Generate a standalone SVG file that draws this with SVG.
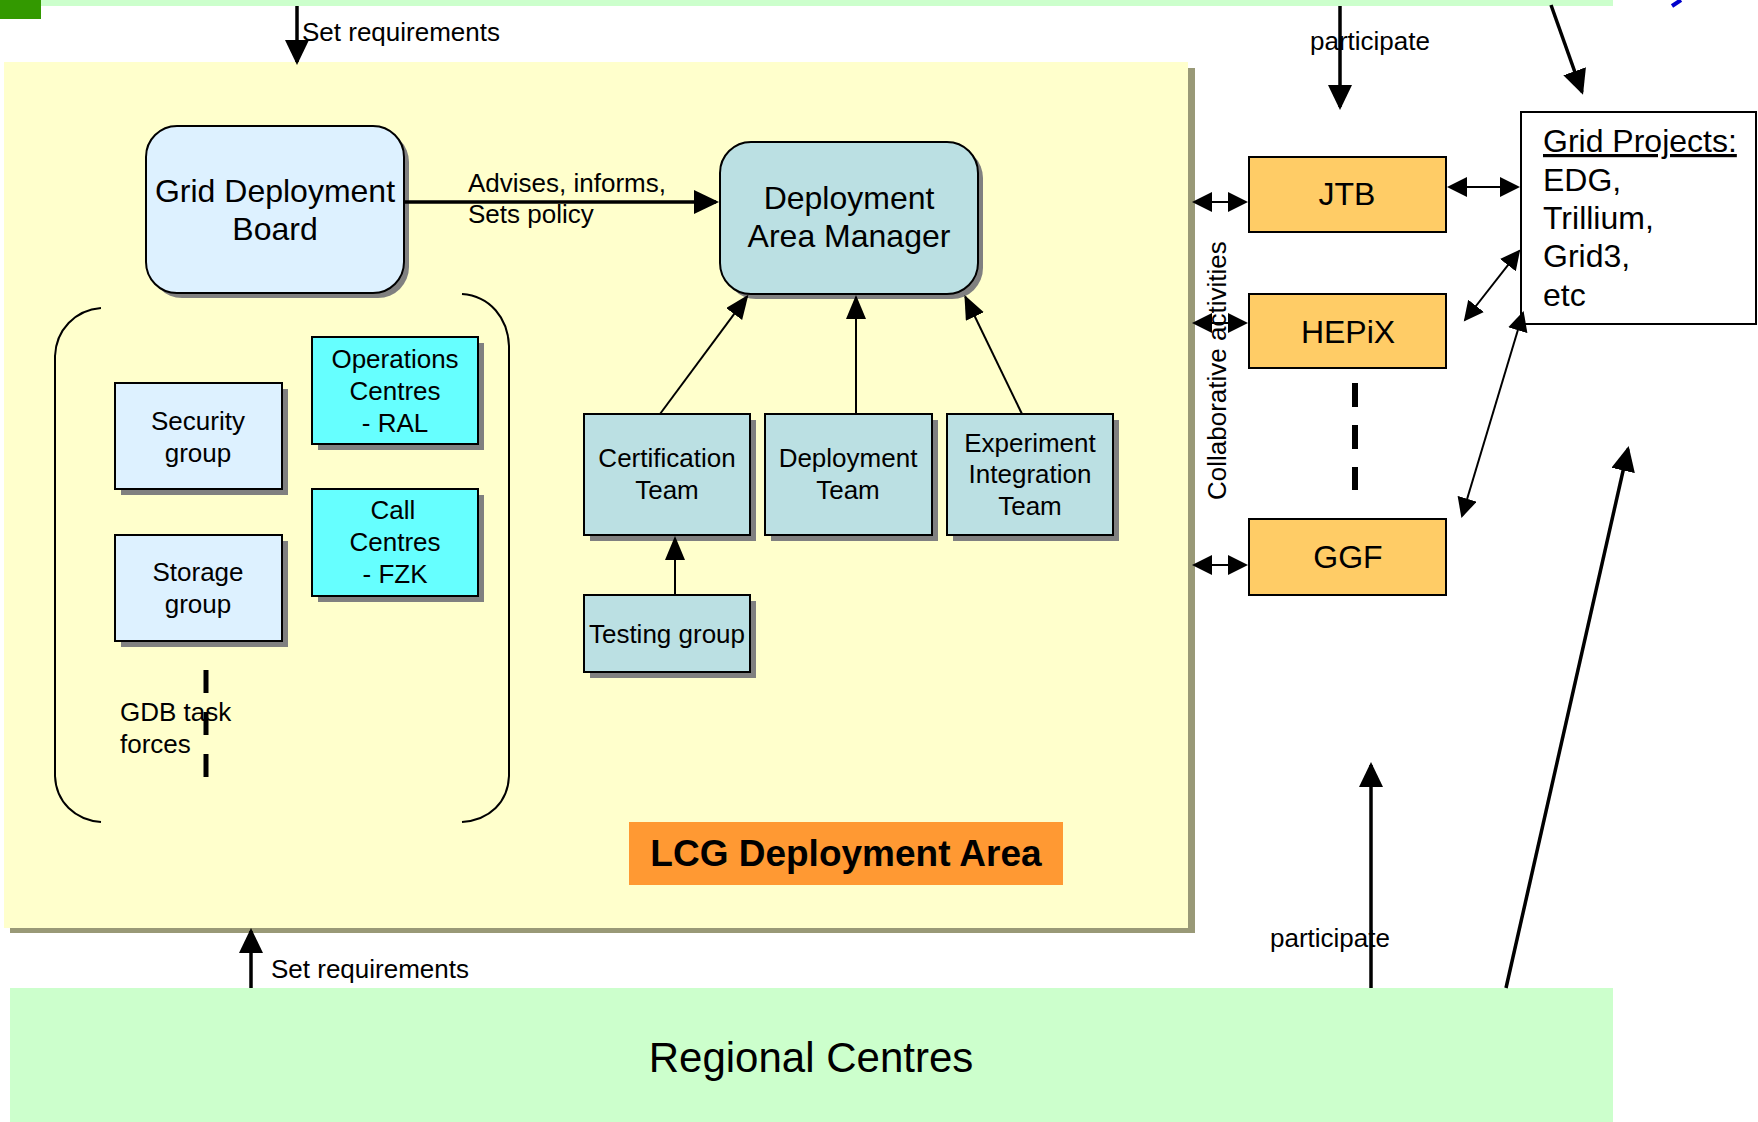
<svg xmlns="http://www.w3.org/2000/svg" width="1758" height="1122" viewBox="0 0 1758 1122">
<style>
text{font-family:"Liberation Sans",Arial,sans-serif;fill:#000}
.t26{font-size:26px}
.t32{font-size:32px}
.c{text-anchor:middle}
.box{stroke:#000;stroke-width:2}
.sh{fill:#808080}
.lb{fill:#DDF1FF}
.tl{fill:#BBE0E3}
.cy{fill:#66FFFF}
.or{fill:#FFCC66}
.ln{stroke:#000;fill:none}
.thin{stroke-width:2}
.thick{stroke-width:3.5}
</style>
<defs>
<marker id="ah" markerUnits="userSpaceOnUse" markerWidth="26" markerHeight="26" refX="22" refY="12" orient="auto"><path d="M0,0 L25,12 L0,24 z" fill="#000"/></marker>
<marker id="am" markerUnits="userSpaceOnUse" markerWidth="26" markerHeight="22" refX="22" refY="10" orient="auto-start-reverse"><path d="M0,0 L24,10 L0,20 z" fill="#000"/></marker>
<marker id="as" markerUnits="userSpaceOnUse" markerWidth="22" markerHeight="22" refX="18" refY="10" orient="auto-start-reverse"><path d="M0,0 L20,10 L0,20 z" fill="#000"/></marker>
</defs>
<rect width="1758" height="1122" fill="#fff"/>

<g id="top-bar">
<rect x="0" y="0" width="1613" height="6" fill="#CCFFCC"/>
<rect x="0" y="0" width="41" height="19" fill="#339900"/>
<path d="M1681,0 L1672,6" stroke="#0000CC" stroke-width="4"/>
</g>

<g id="lcg-area">
<rect x="10" y="68" width="1185" height="865" fill="#999977"/>
<rect x="4" y="62" width="1184" height="866" fill="#FFFFCC"/>
<rect x="629" y="822" width="434" height="63" fill="#FF9933"/>
<text x="846" y="866" class="c" font-size="37" font-weight="bold">LCG Deployment Area</text>
</g>

<g id="gdb-bracket">
<path class="ln thin" d="M101,308 C75,310 56,330 55,356 L55,776 C56,802 75,820 101,822"/>
<path class="ln thin" d="M462,294 C490,296 508,318 509,346 L509,776 C508,802 490,820 462,822"/>
</g>

<g id="regional-centres">
<rect x="10" y="988" width="1603" height="134" fill="#CCFFCC"/>
<text x="811" y="1072" class="c" font-size="42">Regional Centres</text>
</g>

<g id="gdb">
<rect x="151" y="131" width="258" height="167" rx="31" class="sh"/>
<rect x="146" y="126" width="258" height="167" rx="31" class="box lb"/>
<text x="275" y="202" class="t32 c">Grid Deployment</text>
<text x="275" y="240" class="t32 c">Board</text>
</g>

<g id="dam">
<rect x="725" y="147" width="258" height="152" rx="31" class="sh"/>
<rect x="720" y="142" width="258" height="152" rx="31" class="box tl"/>
<text x="849" y="209" class="t32 c">Deployment</text>
<text x="849" y="247" class="t32 c">Area Manager</text>
</g>

<g id="security">
<rect x="121" y="389" width="167" height="106" class="sh"/>
<rect x="115" y="383" width="167" height="106" class="box lb"/>
<text x="198" y="430" class="t26 c">Security</text>
<text x="198" y="462" class="t26 c">group</text>
</g>

<g id="storage">
<rect x="121" y="541" width="167" height="106" class="sh"/>
<rect x="115" y="535" width="167" height="106" class="box lb"/>
<text x="198" y="581" class="t26 c">Storage</text>
<text x="198" y="613" class="t26 c">group</text>
</g>

<g id="operations">
<rect x="318" y="343" width="166" height="107" class="sh"/>
<rect x="312" y="337" width="166" height="107" class="box cy"/>
<text x="395" y="368" class="t26 c">Operations</text>
<text x="395" y="400" class="t26 c">Centres</text>
<text x="395" y="432" class="t26 c">- RAL</text>
</g>

<g id="call">
<rect x="318" y="495" width="166" height="107" class="sh"/>
<rect x="312" y="489" width="166" height="107" class="box cy"/>
<text x="393" y="519" class="t26 c">Call</text>
<text x="395" y="551" class="t26 c">Centres</text>
<text x="395" y="583" class="t26 c">- FZK</text>
</g>

<g id="gdb-task-forces">
<text x="120" y="721" class="t26">GDB task</text>
<text x="120" y="753" class="t26">forces</text>
<path d="M206,670 L206,777" stroke="#000" stroke-width="5" stroke-dasharray="23,19"/>
</g>

<g id="certification">
<rect x="590" y="420" width="166" height="121" class="sh"/>
<rect x="584" y="414" width="166" height="121" class="box tl"/>
<text x="667" y="467" class="t26 c">Certification</text>
<text x="667" y="499" class="t26 c">Team</text>
</g>

<g id="deployment-team">
<rect x="771" y="420" width="167" height="121" class="sh"/>
<rect x="765" y="414" width="167" height="121" class="box tl"/>
<text x="848" y="467" class="t26 c">Deployment</text>
<text x="848" y="499" class="t26 c">Team</text>
</g>

<g id="experiment">
<rect x="953" y="420" width="166" height="121" class="sh"/>
<rect x="947" y="414" width="166" height="121" class="box tl"/>
<text x="1030" y="452" class="t26 c">Experiment</text>
<text x="1030" y="483" class="t26 c">Integration</text>
<text x="1030" y="515" class="t26 c">Team</text>
</g>

<g id="testing">
<rect x="590" y="601" width="166" height="77" class="sh"/>
<rect x="584" y="595" width="166" height="77" class="box tl"/>
<text x="667" y="643" class="t26 c">Testing group</text>
</g>

<g id="jtb">
<rect x="1249" y="157" width="197" height="75" class="box or"/>
<text x="1347" y="205" class="t32 c">JTB</text>
</g>

<g id="hepix">
<rect x="1249" y="294" width="197" height="74" class="box or"/>
<text x="1348" y="343" class="t32 c">HEPiX</text>
</g>

<g id="ggf">
<rect x="1249" y="519" width="197" height="76" class="box or"/>
<text x="1348" y="568" class="t32 c">GGF</text>
</g>

<g id="grid-projects">
<rect x="1521" y="112" width="235" height="212" fill="#fff" stroke="#000" stroke-width="2"/>
<text x="1543" y="152" class="t32" text-decoration="underline">Grid Projects:</text>
<text x="1543" y="191" class="t32">EDG,</text>
<text x="1543" y="229" class="t32">Trillium,</text>
<text x="1543" y="267" class="t32">Grid3,</text>
<text x="1543" y="306" class="t32">etc</text>
</g>

<g id="labels">
<text x="302" y="41" class="t26">Set requirements</text>
<text x="271" y="978" class="t26">Set requirements</text>
<text x="468" y="192" class="t26">Advises, informs,</text>
<text x="468" y="223" class="t26">Sets policy</text>
<text x="1310" y="50" class="t26">participate</text>
<text x="1270" y="947" class="t26">participate</text>
<text transform="translate(1226,500) rotate(-90)" class="t26">Collaborative activities</text>
</g>

<g id="connectors">
<path class="ln thick" d="M297,6 L297,62" marker-end="url(#ah)"/>
<path class="ln thick" d="M251,988 L251,931" marker-end="url(#ah)"/>
<path class="ln thick" d="M404,202 L716,202" marker-end="url(#ah)"/>
<path class="ln thin" d="M660,414 L747.2,296.4" marker-end="url(#am)"/>
<path class="ln thin" d="M856,414 L856,297" marker-end="url(#am)"/>
<path class="ln thin" d="M1022,414 L965.3,296.7" marker-end="url(#am)"/>
<path class="ln thin" d="M675,595 L675,538" marker-end="url(#am)"/>
<path class="ln thin" d="M1194,202 L1246,202" marker-start="url(#as)" marker-end="url(#as)"/>
<path class="ln thin" d="M1194,323 L1246,323" marker-start="url(#as)" marker-end="url(#as)"/>
<path class="ln thin" d="M1194,565 L1246,565" marker-start="url(#as)" marker-end="url(#as)"/>
<path class="ln thin" d="M1449,187 L1518,187" marker-start="url(#as)" marker-end="url(#as)"/>
<path class="ln thin" d="M1465,320 L1519,251" marker-start="url(#as)" marker-end="url(#as)"/>
<path class="ln thin" d="M1462,516 L1523,313" marker-start="url(#as)" marker-end="url(#as)"/>
<path d="M1355,383 L1355,490" stroke="#000" stroke-width="6" stroke-dasharray="24,18"/>
<path class="ln thick" d="M1340,6 L1340,107" marker-end="url(#ah)"/>
<path class="ln thick" d="M1551,5 L1582,92" marker-end="url(#ah)"/>
<path class="ln thick" d="M1371,988 L1371,765" marker-end="url(#ah)"/>
<path class="ln thick" d="M1506,988 L1628,449" marker-end="url(#ah)"/>
</g>
</svg>
